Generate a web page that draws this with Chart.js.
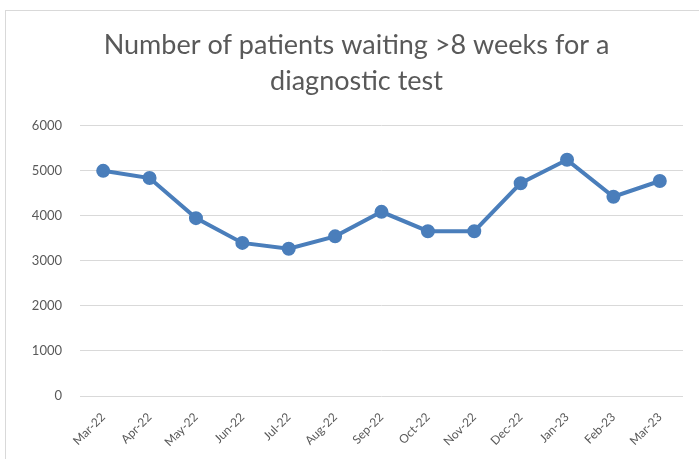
<!DOCTYPE html>
<html>
<head>
<meta charset="utf-8">
<script src="https://cdn.jsdelivr.net/npm/chart.js@4"></script>
<style>
  body { margin: 0; background: #fff; }
  #wrap { position: relative; width: 699px; height: 459px; overflow: hidden; }
  #frame { position: absolute; left: 5px; top: 10px; width: 720px; height: 480px; border: 1px solid #d9d9d9; }
  canvas { position: absolute; left: 0; top: 0; }
</style>
</head>
<body>
<div id="wrap">
  <div id="frame"></div>
  <canvas id="waitChart" width="699" height="459"></canvas>
</div>
<script>
// Patients waiting >8 weeks
const months = ['Mar-22', 'Apr-22', 'May-22', 'Jun-22', 'Jul-22', 'Aug-22', 'Sep-22',
  'Oct-22', 'Nov-22', 'Dec-22', 'Jan-23', 'Feb-23', 'Mar-23'];
const patientsWaiting = [5000, 4840, 3950, 3400, 3270, 3545, 4090, 3660, 3660, 4725, 5245, 4425, 4775];
const titleLines = ['Number of patients waiting >8 weeks for a', 'diagnostic test'];

const ctx = document.getElementById('waitChart').getContext('2d');
const waitChart = new Chart(ctx, {
  type: 'line',
  data: {
    labels: months,
    datasets: [{
      label: 'Patients waiting',
      data: patientsWaiting,
      borderColor: '#4a7ebb',
      backgroundColor: '#4a7ebb',
      borderWidth: 4,
      pointRadius: 5,
      pointHoverRadius: 5,
      tension: 0
    }]
  },
  options: {
    responsive: false,
    animation: false,
    layout: { padding: { left: 30, right: 16, top: 0, bottom: 0 } },
    plugins: {
      legend: { display: false },
      tooltip: { enabled: false },
      title: {
        display: true,
        text: titleLines,
        color: '#595959',
        font: { family: 'Lato', size: 27, weight: 'normal', lineHeight: 1.33 },
        padding: { top: 27, bottom: 27 }
      }
    },
    scales: {
      x: {
        offset: true,
        grid: { display: false },
        border: { display: false },
        ticks: {
          color: '#595959',
          font: { family: 'Lato', size: 12 },
          minRotation: 45,
          maxRotation: 45,
          autoSkip: false,
          padding: 6
        },
        afterFit: (scale) => { scale.height = 63; }
      },
      y: {
        min: 0,
        max: 6000,
        grid: { color: '#d9d9d9', lineWidth: 1, drawTicks: false },
        border: { display: false },
        ticks: {
          stepSize: 1000,
          color: '#595959',
          font: { family: 'Lato', size: 13 },
          padding: 18,
          callback: (v) => String(v)
        },
        afterFit: (scale) => { scale.width = 50; }
      }
    }
  }
});
</script>
</body>
</html>
